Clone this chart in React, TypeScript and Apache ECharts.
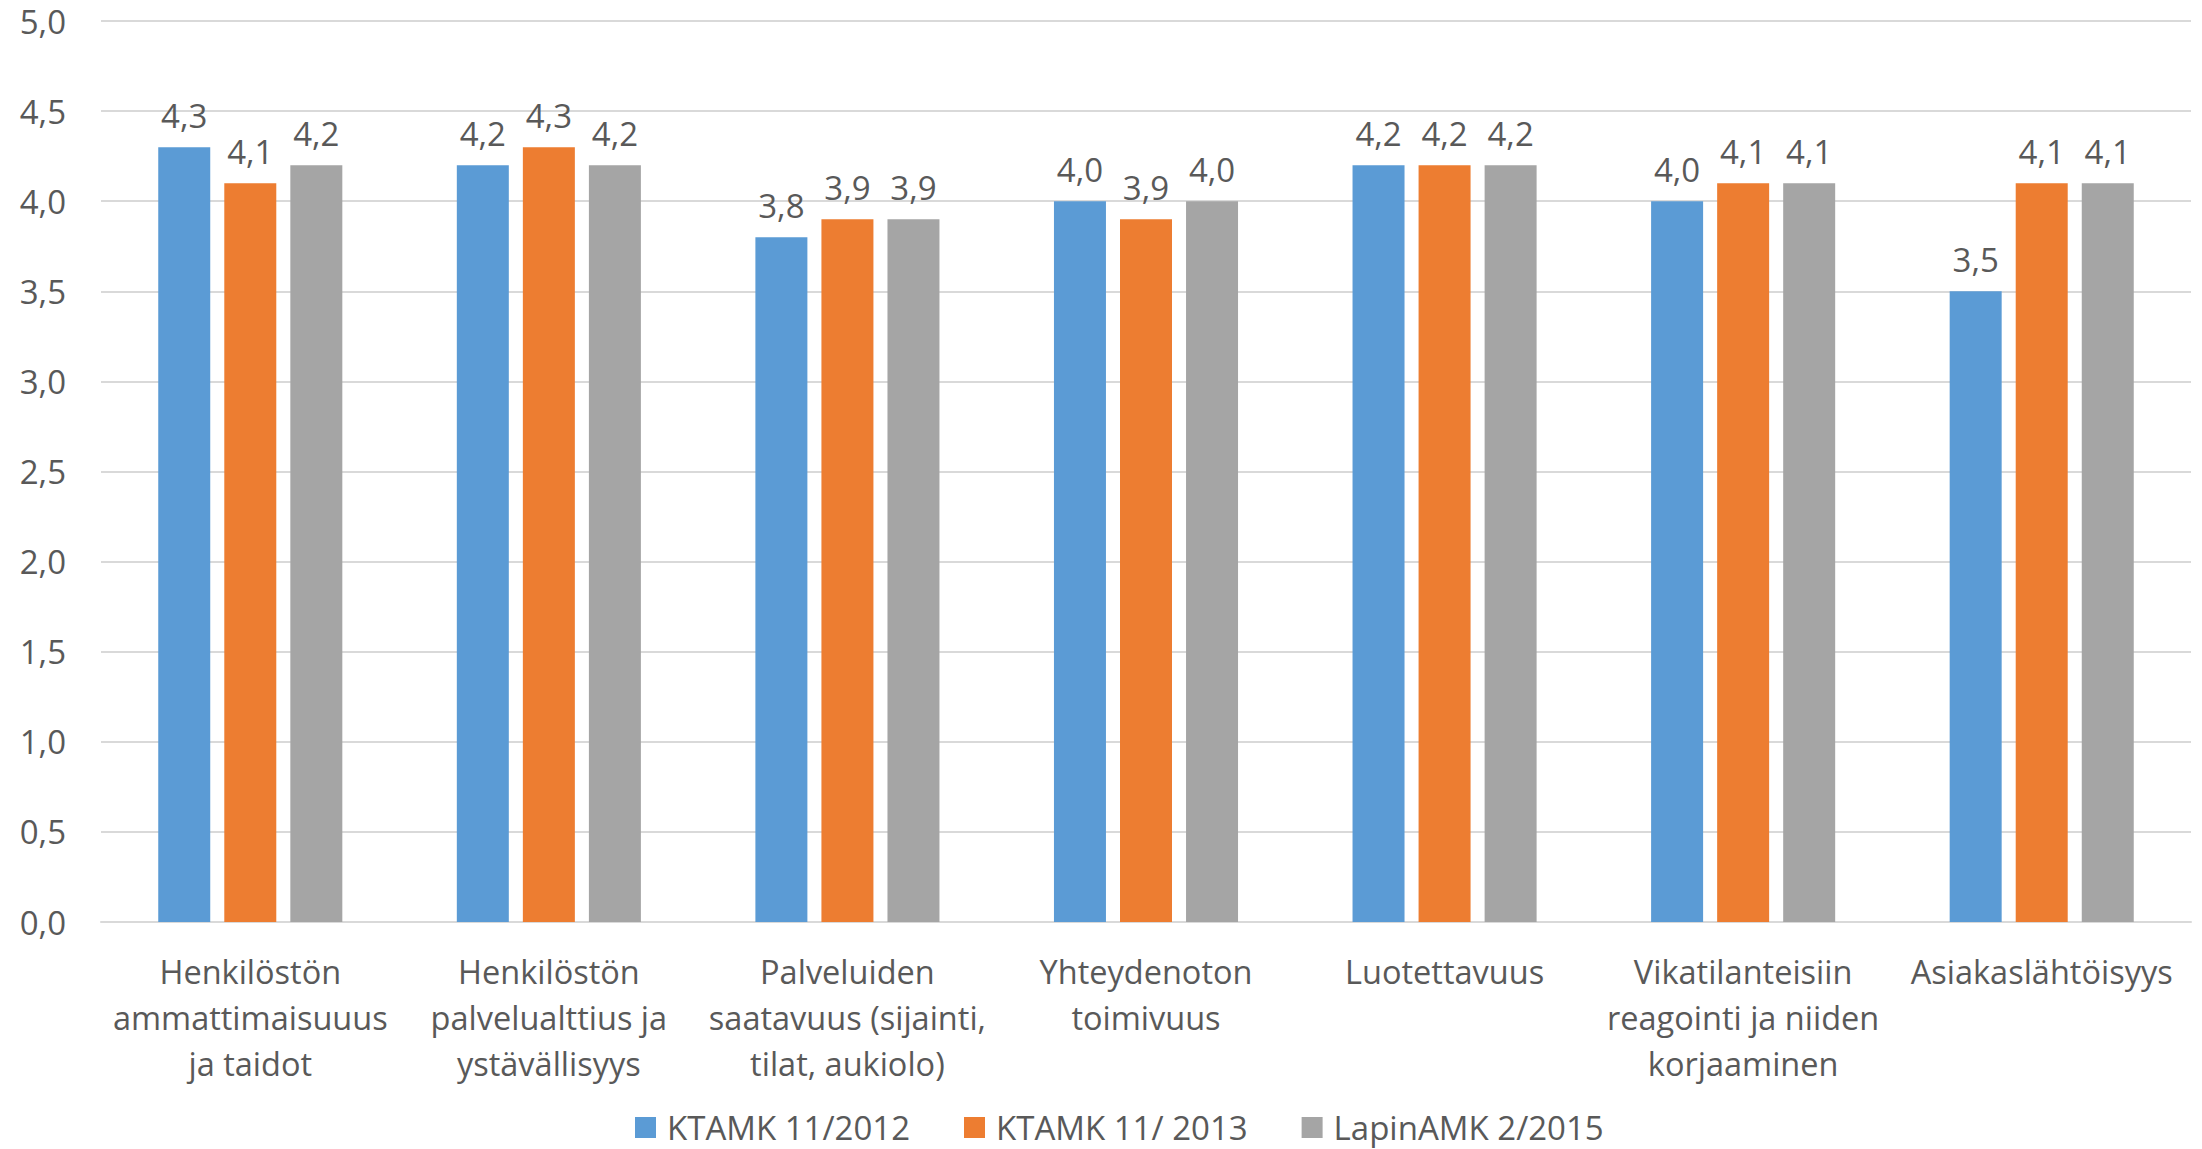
import React, { useEffect, useRef } from "react";
import * as echarts from "echarts";

const categories = [
  "Henkilöstön\nammattimaisuuus\nja taidot",
  "Henkilöstön\npalvelualttius ja\nystävällisyys",
  "Palveluiden\nsaatavuus (sijainti,\ntilat, aukiolo)",
  "Yhteydenoton\ntoimivuus",
  "Luotettavuus",
  "Vikatilanteisiin\nreagointi ja niiden\nkorjaaminen",
  "Asiakaslähtöisyys",
];
const seriesNames = ["KTAMK 11/2012", "KTAMK 11/ 2013", "LapinAMK 2/2015"];
const ktamk2012 = [4.3, 4.2, 3.8, 4.0, 4.2, 4.0, 3.5];
const ktamk2013 = [4.1, 4.3, 3.9, 3.9, 4.2, 4.1, 4.1];
const lapin2015 = [4.2, 4.2, 3.9, 4.0, 4.2, 4.1, 4.1];
const colors = ["#5B9BD5", "#ED7D31", "#A5A5A5"];

const FONT = "'Open Sans', 'DejaVu Sans', sans-serif";
const TXT = "#595959";

const fmt = (v: number) => v.toFixed(1).replace(".", ",");

export default function App() {
  const ref = useRef<HTMLDivElement>(null);
  useEffect(() => {
    if (!ref.current) return;
    const chart = echarts.init(ref.current, undefined, { renderer: "svg" });
    const data = [ktamk2012, ktamk2013, lapin2015];
    chart.setOption({
      animation: false,
      backgroundColor: "#ffffff",
      textStyle: { fontFamily: FONT },
      grid: { left: 101, right: 11, top: 21, bottom: 227, containLabel: false },
      legend: {
        bottom: 0,
        left: 630,
        itemWidth: 21,
        itemHeight: 21,
        itemGap: 54,
        icon: "rect",
        textStyle: { fontFamily: FONT, fontSize: 33, color: TXT, padding: [0, 0, 0, 6] },
        data: seriesNames,
      },
      xAxis: {
        type: "category",
        data: categories,
        axisLine: { show: true, lineStyle: { color: "#D9D9D9", width: 2 } },
        axisTick: { show: false },
        axisLabel: {
          interval: 0,
          color: TXT,
          fontFamily: FONT,
          fontSize: 32.5,
          lineHeight: 46,
          margin: 26,
        },
      },
      yAxis: {
        type: "value",
        min: 0,
        max: 5,
        interval: 0.5,
        axisLine: { show: false },
        axisTick: { show: false },
        splitLine: { lineStyle: { color: "#D9D9D9", width: 2 } },
        axisLabel: {
          color: TXT,
          fontFamily: FONT,
          fontSize: 33,
          margin: 35,
          formatter: (v: number) => fmt(v),
        },
      },
      series: seriesNames.map((name, i) => ({
        name,
        type: "bar",
        data: data[i],
        barWidth: 52,
        barGap: "27%",
        itemStyle: { color: colors[i] },
        label: {
          show: true,
          position: "top",
          distance: 15,
          color: TXT,
          fontFamily: FONT,
          fontSize: 33,
          formatter: (p: any) => fmt(p.value),
        },
      })),
    });
    return () => chart.dispose();
  }, []);
  return (
    <div
      ref={ref}
      style={{ position: "fixed", left: 0, top: 0, width: 2202, height: 1149 }}
    />
  );
}
